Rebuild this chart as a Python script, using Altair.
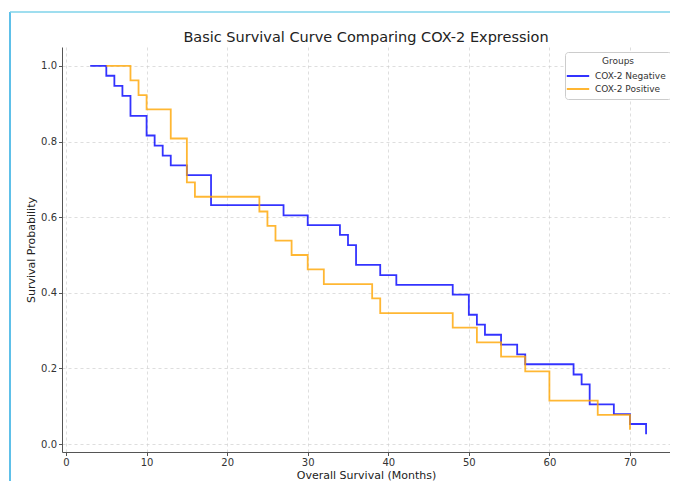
import altair as alt
import pandas as pd

# Data (Kaplan-Meier step points)
neg_time = [3, 5, 6, 7, 8, 10, 11, 12, 13, 15, 18, 27, 30, 34, 35, 36, 39, 41, 48, 50,
            51, 52, 54, 56, 57, 63, 64, 65, 68, 70, 72]
neg_surv = [1.0, 0.974, 0.947, 0.921, 0.868, 0.816, 0.789, 0.763, 0.737, 0.711, 0.632,
            0.605, 0.579, 0.553, 0.526, 0.474, 0.447, 0.421, 0.395, 0.342, 0.316, 0.289,
            0.263, 0.237, 0.211, 0.184, 0.158, 0.105, 0.079, 0.053, 0.026]
pos_time = [5, 8, 9, 10, 13, 15, 16, 24, 25, 26, 28, 30, 32, 38, 39, 48, 51, 54, 57, 60, 66, 70]
pos_surv = [1.0, 0.962, 0.923, 0.885, 0.808, 0.692, 0.654, 0.615, 0.577, 0.538, 0.5,
            0.462, 0.423, 0.385, 0.346, 0.308, 0.269, 0.231, 0.192, 0.115, 0.077, 0.038]
groups = ["COX-2 Negative", "COX-2 Positive"]
colors = ["#0000ff", "#ffa500"]
x_ticks = [0, 10, 20, 30, 40, 50, 60, 70]
y_ticks = [0.0, 0.2, 0.4, 0.6, 0.8, 1.0]

df = pd.concat([
    pd.DataFrame({"time": neg_time, "surv": neg_surv, "group": groups[0], "order": range(len(neg_time))}),
    pd.DataFrame({"time": pos_time, "surv": pos_surv, "group": groups[1], "order": range(len(pos_time))}),
])

FONT = "DejaVu Sans"

lines = alt.Chart(df).mark_line(interpolate="step-after", strokeWidth=1.8, opacity=0.8).encode(
    x=alt.X("time:Q", title="Overall Survival (Months)",
            scale=alt.Scale(domain=[-0.5, 74.97], nice=False, zero=False),
            axis=alt.Axis(values=x_ticks, format="d")),
    y=alt.Y("surv:Q", title="Survival Probability",
            scale=alt.Scale(domain=[-0.021, 1.050], nice=False, zero=False),
            axis=alt.Axis(values=y_ticks, format=".1f")),
    color=alt.Color("group:N", scale=alt.Scale(domain=groups, range=colors),
                    legend=alt.Legend(title="Groups", orient="none", legendX=503, legendY=5,
                                      symbolType="M-1.6,0L1.6,0", symbolSize=196, symbolStrokeWidth=2,
                                      titleAnchor="middle", titleFontSize=9, titleFontWeight="normal",
                                      titleColor="#333333", labelFontSize=9, labelColor="#333333",
                                      fillColor="white", strokeColor="#cccccc", cornerRadius=3,
                                      padding=5, rowPadding=0, titlePadding=2, labelOffset=9)),
    order="order:Q",
)

frame_left = alt.Chart(pd.DataFrame({"k": [0]})).mark_rule(color="#29abe2", strokeWidth=1.5).encode(
    x=alt.value(-52), y=alt.value(-35), y2=alt.value(440))
frame_top = alt.Chart(pd.DataFrame({"k": [0]})).mark_rule(color="#7fd3ea", strokeWidth=1.5).encode(
    x=alt.value(-52), x2=alt.value(608), y=alt.value(-35))

chart = alt.layer(lines, frame_left, frame_top).properties(
    width=608, height=405,
    autosize="none",
    padding={"left": 54, "top": 39, "right": 0, "bottom": 29},
    title=alt.TitleParams("Basic Survival Curve Comparing COX-2 Expression", fontSize=14.5,
                          font=FONT, fontWeight="normal", color="#222222", offset=-34,
                          anchor="middle", frame="group"),
).configure_view(stroke=None).configure_axis(
    labelFont=FONT, titleFont=FONT, labelFontSize=10, titleFontSize=11, titleFontWeight="normal",
    labelColor="#333333", titleColor="#222222", domainColor="#555555", tickColor="#555555",
    tickSize=3.5, labelPadding=2, grid=True, gridColor="#cccccc", gridDash=[3, 3], gridOpacity=0.65,
).configure_axisX(titlePadding=2).configure_axisY(titlePadding=4).configure_legend(
    labelFont=FONT, titleFont=FONT)

chart.save("out.html", embed_options={"renderer": "svg", "actions": False})
